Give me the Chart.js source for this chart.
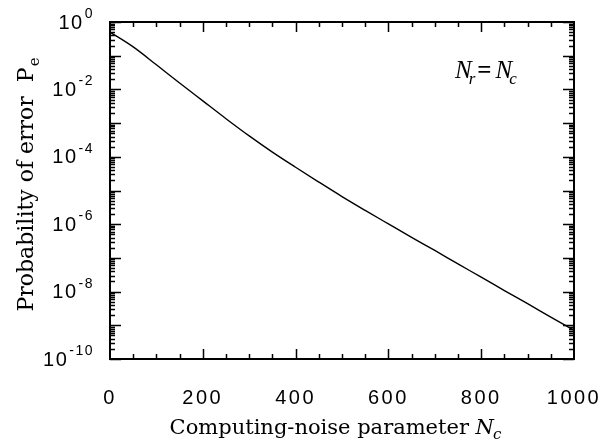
<!DOCTYPE html>
<html>
<head>
<meta charset="utf-8">
<script src="https://cdn.jsdelivr.net/npm/chart.js@4/dist/chart.umd.min.js"></script>
<style>
html,body{margin:0;padding:0;background:#fff;}
#c{display:block;}
</style>
</head>
<body>
<canvas id="c" width="611" height="446" style="width:611px;height:446px"></canvas>
<script>
// ---- data ----
const noiseParam = [0, 50, 100, 150, 200, 250, 300, 350, 400, 450, 500, 550, 600, 650, 700, 750, 800, 850, 900, 950, 1000];
const errorProb  = [0.50, 0.182, 0.0537, 0.0155, 4.57e-3, 1.35e-3, 4.17e-4, 1.38e-4, 4.90e-5, 1.78e-5, 6.61e-6, 2.57e-6, 1.02e-6, 4.07e-7, 1.66e-7, 6.61e-8, 2.69e-8, 1.07e-8, 4.37e-9, 1.74e-9, 7.08e-10];
const xTickValues = [0, 200, 400, 600, 800, 1000];
const yTickExponents = [0, -2, -4, -6, -8, -10];
const xTitle = "Computing-noise parameter ";
const xTitleVar = "N";
const xTitleSub = "c";
const yTitle = "Probability of error  ";
const yTitleVar = "P";
const yTitleSub = "e";

const frame = {
  id: 'frame',
  beforeDraw(chart){ chart.ctx.letterSpacing = '2.5px'; },
  afterDraw(chart){
    const ctx = chart.ctx;
    ctx.letterSpacing = '0px';
    const a = chart.chartArea;
    const xs = chart.scales.x, ys = chart.scales.y;
    ctx.save();
    ctx.strokeStyle = '#000';
    ctx.lineWidth = 2;
    ctx.strokeRect(a.left, a.top, a.right - a.left, a.bottom - a.top);
    ctx.lineWidth = 1.5;
    ctx.beginPath();
    for (let v = 50; v < 1000; v += 50) {
      const px = Math.round(xs.getPixelForValue(v)) + 0.5;
      const len = (v % 200 === 0) ? 10 : 5;
      ctx.moveTo(px, a.bottom); ctx.lineTo(px, a.bottom - len);
      ctx.moveTo(px, a.top); ctx.lineTo(px, a.top + len);
    }
    for (let e = -10; e <= 0; e++) {
      for (let m = 1; m <= 9; m++) {
        const v = m * Math.pow(10, e);
        if (v > 1) break;
        const py = Math.round(ys.getPixelForValue(v)) + 0.5;
        const len = (m === 1) ? 11 : 5;
        ctx.moveTo(a.left, py); ctx.lineTo(a.left + len, py);
        ctx.moveTo(a.right, py); ctx.lineTo(a.right - len, py);
      }
    }
    ctx.stroke();

    ctx.fillStyle = '#000';
    // y tick labels: 10 with superscript exponent, placed by the y scale
    ctx.letterSpacing = '1.5px';
    yTickExponents.forEach(ex => {
      const py = ys.getPixelForValue(Math.pow(10, ex));
      const expTxt = (ex < 0 ? '-' : '') + Math.abs(ex);
      ctx.textAlign = 'right';
      ctx.font = "14px 'Liberation Sans', Arial";
      ctx.textBaseline = 'alphabetic';
      ctx.fillText(expTxt, 94, py - 4);
      const ew = ctx.measureText(expTxt).width;
      ctx.font = "20px 'Liberation Sans', Arial";
      ctx.textBaseline = 'middle';
      ctx.fillText('10', 94 - ew - 1, py + 1);
    });
    ctx.letterSpacing = '0px';

    ctx.textBaseline = 'alphabetic';
    ctx.textAlign = 'left';
    // x title
    const f1 = "21px 'DejaVu Serif'";
    const f1i = "italic 21px 'DejaVu Serif'";
    const f1s = "italic 15px 'DejaVu Serif'";
    ctx.font = f1; const w1 = ctx.measureText(xTitle).width;
    ctx.font = f1i; const w2 = ctx.measureText(xTitleVar).width;
    ctx.font = f1s; const w3 = ctx.measureText(xTitleSub).width;
    let x0 = 336 - (w1 + w2 + w3) / 2;
    const by = 434;
    ctx.font = f1; ctx.fillText(xTitle, x0, by);
    ctx.font = f1i; ctx.fillText(xTitleVar, x0 + w1, by);
    ctx.font = f1s; ctx.fillText(xTitleSub, x0 + w1 + w2 - 1, by + 5);

    // y title rotated
    ctx.save();
    ctx.translate(33, 185);
    ctx.rotate(-Math.PI / 2);
    const fy = "22px 'DejaVu Serif'";
    const fys = "15px 'DejaVu Serif'";
    ctx.font = fy; const u1 = ctx.measureText(yTitle).width;
    const u2 = ctx.measureText(yTitleVar).width;
    ctx.font = fys; const u3 = ctx.measureText(yTitleSub).width;
    let t0 = -(u1 + u2 + u3) / 2;
    ctx.font = fy; ctx.fillText(yTitle, t0, 0); ctx.fillText(yTitleVar, t0 + u1, 0);
    ctx.font = fys; ctx.fillText(yTitleSub, t0 + u1 + u2 + 1, 6);
    ctx.restore();

    // annotation N_r = N_c
    const fa = "italic 25px 'Liberation Serif'";
    const fs = "italic 17px 'Liberation Serif'";
    const fn = "bold 25px 'Liberation Serif'";
    let ax = 455; const ay = 78;
    ctx.font = fa; ctx.fillText('N', ax, ay); ax += ctx.measureText('N').width - 3;
    ctx.font = fs; ctx.fillText('r', ax, ay + 6); ax += ctx.measureText('r').width + 2;
    ctx.font = fn; ctx.fillText('=', ax, ay); ax += ctx.measureText('=').width + 4;
    ctx.font = fa; ctx.fillText('N', ax, ay); ax += ctx.measureText('N').width - 3;
    ctx.font = fs; ctx.fillText('c', ax, ay + 6);
    ctx.restore();
  }
};

new Chart(document.getElementById('c'), {
  type: 'line',
  data: {
    datasets: [{
      data: noiseParam.map((x, i) => ({x: x, y: errorProb[i]})),
      borderColor: '#000',
      borderWidth: 1.4,
      pointRadius: 0,
      cubicInterpolationMode: 'monotone',
      fill: false
    }]
  },
  options: {
    responsive: false,
    animation: false,
    layout: { padding: { left: 0, top: 22, right: 37, bottom: 0 } },
    plugins: { legend: { display: false }, tooltip: { enabled: false } },
    scales: {
      x: {
        type: 'linear', min: 0, max: 1000,
        afterBuildTicks: s => { s.ticks = xTickValues.map(v => ({value: v})); },
        afterFit: s => { s.height = 87; s.paddingLeft = 0; s.paddingRight = 0; },
        grid: { display: false, drawTicks: false },
        border: { display: false },
        ticks: { color: '#000', font: { family: "'Liberation Sans', Arial", size: 20 }, padding: 27, maxRotation: 0,
                 callback: v => String(v) }
      },
      y: {
        type: 'logarithmic', min: 1e-10, max: 1,
        afterBuildTicks: s => { s.ticks = yTickExponents.map(e => ({value: Math.pow(10, e)})); },
        afterFit: s => { s.width = 110; s.paddingTop = 0; s.paddingBottom = 0; },
        grid: { display: false, drawTicks: false },
        border: { display: false },
        ticks: { display: false }
      }
    }
  },
  plugins: [frame]
});
</script>
</body>
</html>
